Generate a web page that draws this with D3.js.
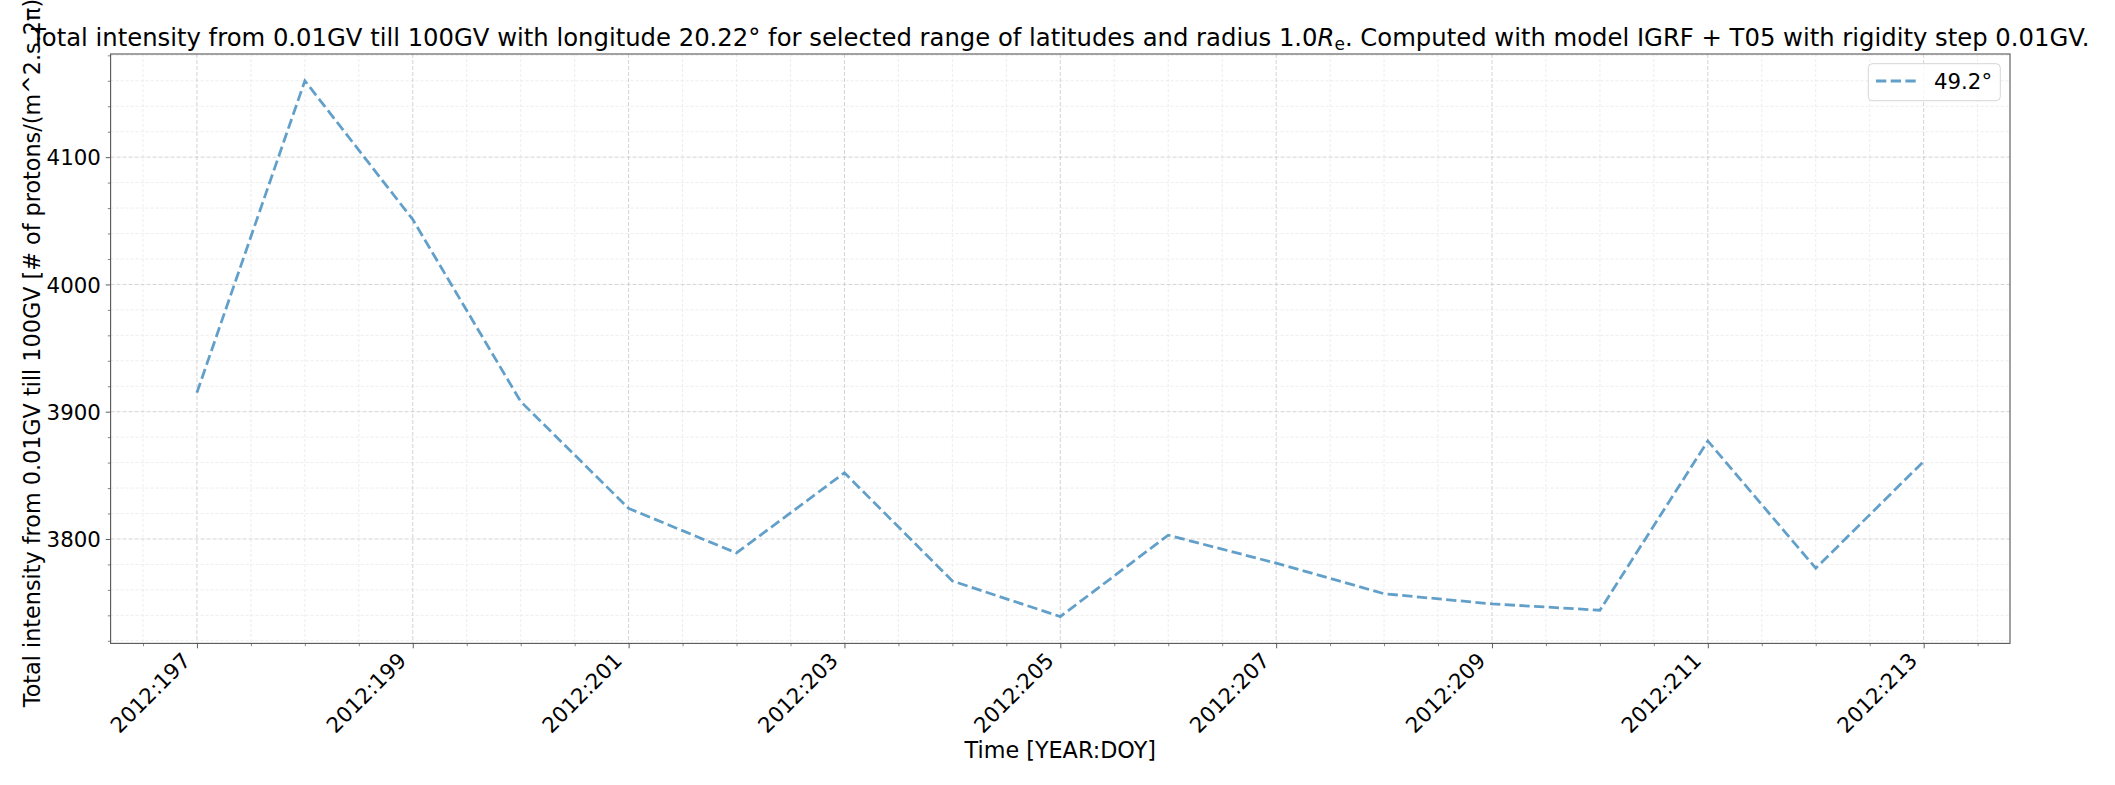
<!DOCTYPE html>
<html><head><meta charset="utf-8">
<script src="https://cdn.jsdelivr.net/npm/d3@7"></script>
<style>
body{margin:0;background:#fff}
svg{display:block}
text{font-family:"DejaVu Sans",sans-serif;fill:#000}
</style>
</head><body>
<svg id="chart" width="2115" height="785"></svg>
<script>
// ---- data ----
const year = 2012;
const days = [197,198,199,200,201,202,203,204,205,206,207,208,209,210,211,212,213];
const intensity = [3915,4160,4051,3908,3824,3789,3852,3767,3739,3803,3781,3757,3749,3744,3877,3777,3861];
const seriesLabel = "49.2°";
const xTickDays = [197,199,201,203,205,207,209,211,213];
const yTickValues = [3800,3900,4000,4100];
const titleParts = ["Total intensity from 0.01GV till 100GV with longitude 20.22° for selected range of latitudes and radius 1.0", "R", "e", ". Computed with model IGRF + T05 with rigidity step 0.01GV."];
const yLabel = "Total intensity from 0.01GV till 100GV [# of protons/(m^2.s.2π)]";
const xLabel = "Time [YEAR:DOY]";

// ---- layout ----
const plot = {left:110.6, right:2010, top:54, bottom:643.4};
const FS = 21.3;       // tick / legend text
const FS_LABEL = 22.3; // axis labels
const FS_TITLE = 24.3; // title

const svg = d3.select("#chart");

const xPad = (d3.max(days) - d3.min(days)) * 0.05;
const x = d3.scaleLinear().domain([d3.min(days) - xPad, d3.max(days) + xPad]).range([plot.left, plot.right]);
const yPad = (d3.max(intensity) - d3.min(intensity)) * 0.05;
const y = d3.scaleLinear().domain([d3.min(intensity) - yPad, d3.max(intensity) + yPad]).range([plot.bottom, plot.top]);

const xMinor = d3.range(Math.ceil(x.domain()[0]*2)/2, x.domain()[1], 0.5).filter(v => !xTickDays.includes(v));
const yMinor = d3.range(Math.ceil(y.domain()[0]/20)*20, y.domain()[1], 20).filter(v => !yTickValues.includes(v));

const g = svg.append("g");

// minor grid
g.append("g").selectAll("line").data(xMinor).join("line")
  .attr("x1", d => x(d)).attr("x2", d => x(d)).attr("y1", plot.top).attr("y2", plot.bottom)
  .attr("stroke", "#e8e8e8").attr("stroke-width", 0.8).attr("stroke-dasharray", "3,2");
g.append("g").selectAll("line").data(yMinor).join("line")
  .attr("y1", d => y(d)).attr("y2", d => y(d)).attr("x1", plot.left).attr("x2", plot.right)
  .attr("stroke", "#e8e8e8").attr("stroke-width", 0.8).attr("stroke-dasharray", "3,2");
// major grid
g.append("g").selectAll("line").data(xTickDays).join("line")
  .attr("x1", d => x(d)).attr("x2", d => x(d)).attr("y1", plot.top).attr("y2", plot.bottom)
  .attr("stroke", "#c8c8c8").attr("stroke-width", 0.8).attr("stroke-dasharray", "4,2");
g.append("g").selectAll("line").data(yTickValues).join("line")
  .attr("y1", d => y(d)).attr("y2", d => y(d)).attr("x1", plot.left).attr("x2", plot.right)
  .attr("stroke", "#c8c8c8").attr("stroke-width", 0.8).attr("stroke-dasharray", "4,2");

// axes via d3
const xAxis = d3.axisBottom(x).tickValues(xTickDays).tickSize(4.9).tickPadding(0).tickFormat(d => `${year}:${d}`);
const xAx = svg.append("g").attr("transform", `translate(0,${plot.bottom})`).call(xAxis);
xAx.select(".domain").remove();
xAx.selectAll(".tick line").attr("stroke", "#333").attr("stroke-width", 0.8);
xAx.selectAll(".tick text")
  .attr("font-size", FS).attr("font-family", "DejaVu Sans").attr("fill", "#000")
  .attr("text-anchor", "end").attr("y", 0).attr("dy", 0)
  .attr("transform", `translate(-5.7,${662 - plot.bottom}) rotate(-45)`);
const xMinorAx = svg.append("g").attr("transform", `translate(0,${plot.bottom})`)
  .call(d3.axisBottom(x).tickValues(xMinor).tickSize(2.8).tickFormat(""));
xMinorAx.select(".domain").remove();
xMinorAx.selectAll(".tick line").attr("stroke", "#333").attr("stroke-width", 0.6);

const yAxis = d3.axisLeft(y).tickValues(yTickValues).tickSize(4.9).tickPadding(4.9).tickFormat(d3.format("d"));
const yAx = svg.append("g").attr("transform", `translate(${plot.left},0)`).call(yAxis);
yAx.select(".domain").remove();
yAx.selectAll(".tick line").attr("stroke", "#333").attr("stroke-width", 0.8);
yAx.selectAll(".tick text").attr("font-size", FS).attr("font-family", "DejaVu Sans").attr("fill", "#000").attr("dy", "0.36em");
const yMinorAx = svg.append("g").attr("transform", `translate(${plot.left},0)`)
  .call(d3.axisLeft(y).tickValues(yMinor).tickSize(2.8).tickFormat(""));
yMinorAx.select(".domain").remove();
yMinorAx.selectAll(".tick line").attr("stroke", "#333").attr("stroke-width", 0.6);

// frame
svg.append("rect").attr("x", plot.left).attr("y", plot.top)
  .attr("width", plot.right - plot.left).attr("height", plot.bottom - plot.top)
  .attr("fill", "none").attr("stroke", "#555").attr("stroke-width", 1.1);

// series
const pts = days.map((d, i) => [d, intensity[i]]);
svg.append("path").datum(pts)
  .attr("d", d3.line().x(d => x(d[0])).y(d => y(d[1])))
  .attr("fill", "none").attr("stroke", "#1f77b4").attr("stroke-opacity", 0.7)
  .attr("stroke-width", 2.78).attr("stroke-dasharray", "10.3,4.4");

// legend
const lg = svg.append("g");
lg.append("rect").attr("x", 1868.3).attr("y", 63.7).attr("width", 132).attr("height", 37).attr("rx", 4)
  .attr("fill", "#fff").attr("fill-opacity", 0.8).attr("stroke", "#d6d6d6").attr("stroke-width", 1);
lg.append("line").attr("x1", 1876).attr("x2", 1917).attr("y1", 81).attr("y2", 81)
  .attr("stroke", "#1f77b4").attr("stroke-opacity", 0.7).attr("stroke-width", 2.78).attr("stroke-dasharray", "10.3,4.4");
lg.append("text").attr("x", 1934).attr("y", 89).attr("font-size", FS).text(seriesLabel);

// title
const t = svg.append("text").attr("x", (plot.left + plot.right) / 2).attr("y", 46)
  .attr("text-anchor", "middle").attr("font-size", FS_TITLE);
t.append("tspan").text(titleParts[0]);
t.append("tspan").attr("font-style", "italic").text(titleParts[1]);
t.append("tspan").attr("font-size", FS_TITLE * 0.7).attr("dy", 4).text(titleParts[2]);
t.append("tspan").attr("dy", -4).text(titleParts[3]);

// axis labels
svg.append("text").attr("x", (plot.left + plot.right) / 2).attr("y", 758)
  .attr("text-anchor", "middle").attr("font-size", FS_LABEL).text(xLabel);
svg.append("text").attr("transform", `translate(40,${(plot.top + plot.bottom) / 2}) rotate(-90)`)
  .attr("text-anchor", "middle").attr("font-size", FS_LABEL).text(yLabel);
</script>
</body></html>
